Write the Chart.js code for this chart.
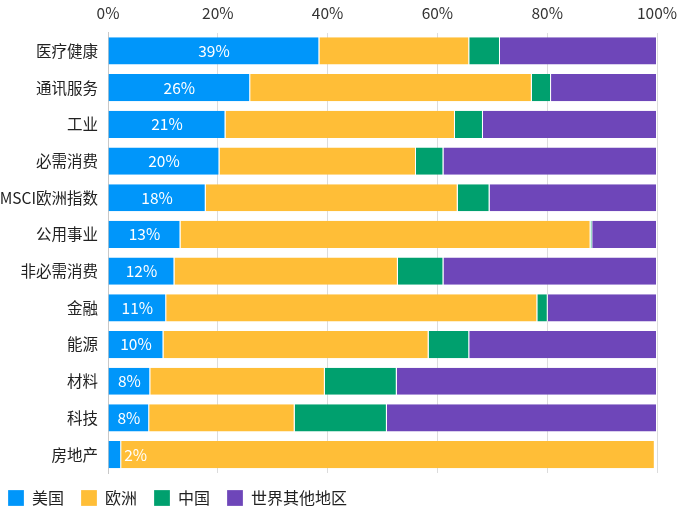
<html>
<head>
    <script src="https://cdn.jsdelivr.net/npm/chart.js"></script>
    <style>
        body { margin: 0; background: #fff; }
        #wrap { width: 679px; height: 506px; }
    </style>
</head>
<body>
    <div id="wrap">
        <canvas id="myChart"></canvas>
    </div>
    <script>
        // 데이터 (행업별 지역 비중, %)
        const sectors = ['医疗健康', '通讯服务', '工业', '必需消费', 'MSCI欧洲指数', '公用事业',
                         '非必需消费', '金融', '能源', '材料', '科技', '房地产'];
        const usValues     = [38.5, 25.9, 21.4, 20.3, 17.8, 13.2, 12.1, 10.6, 10.1, 7.7, 7.5, 2.4];
        const europeValues = [27.3, 51.3, 41.8, 35.8, 45.9, 74.7, 40.7, 67.6, 48.3, 31.8, 26.5, 97.2];
        const chinaValues  = [5.6, 3.5, 5.1, 5.0, 5.8, 0.3, 8.3, 1.9, 7.4, 13.1, 16.8, 0];
        const restValues   = [28.6, 19.3, 31.7, 38.9, 30.5, 11.8, 38.9, 19.9, 34.2, 47.4, 49.2, 0];
        const seriesNames  = ['美国', '欧洲', '中国', '世界其他地区'];
        const xTicks       = [0, 20, 40, 60, 80, 100];

        const colors = ['#0096fa', '#ffbe37', '#00a06e', '#6e46b9'];
        const font = "'Noto Sans CJK SC', 'Noto Sans', sans-serif";

        // 미국 비중 라벨
        const usLabel = {
            id: 'usLabel',
            afterDatasetsDraw(chart) {
                const ctx = chart.ctx;
                const meta = chart.getDatasetMeta(0);
                ctx.save();
                ctx.font = '15.5px ' + font;
                ctx.fillStyle = '#fff';
                ctx.textBaseline = 'middle';
                meta.data.forEach((bar, i) => {
                    const text = Math.round(usValues[i]) + '%';
                    const w = ctx.measureText(text).width;
                    const left = bar.base, right = bar.x;
                    if (right - left > w + 4) {
                        ctx.textAlign = 'center';
                        ctx.fillText(text, (left + right) / 2, bar.y);
                    } else {
                        ctx.textAlign = 'left';
                        ctx.fillText(text, right + 3, bar.y);
                    }
                });
                ctx.restore();
            }
        };

        // 범례를 왼쪽으로 조금 당김
        const legendShift = {
            id: 'legendShift',
            afterLayout(chart) {
                chart.legend.left -= 9;
            }
        };

        new Chart(document.getElementById('myChart'), {
            type: 'bar',
            data: {
                labels: sectors,
                datasets: [usValues, europeValues, chinaValues, restValues].map((d, i) => ({
                    label: seriesNames[i],
                    data: d,
                    backgroundColor: colors[i],
                    borderColor: '#fff',
                    borderWidth: { left: 0, right: 1, top: 0, bottom: 0 },
                    borderSkipped: false,
                    categoryPercentage: 1,
                    barPercentage: 0.74
                }))
            },
            options: {
                indexAxis: 'y',
                responsive: true,
                maintainAspectRatio: false,
                animation: false,
                layout: { padding: { top: -6, right: 4, left: 0, bottom: -10 } },
                scales: {
                    x: {
                        position: 'top',
                        stacked: true,
                        min: 0,
                        max: 100,
                        afterBuildTicks: axis => { axis.ticks = xTicks.map(v => ({ value: v })); },
                        afterFit: axis => { axis.paddingRight = 22; },
                        ticks: {
                            callback: v => v + '%',
                            color: '#333',
                            font: { family: font, size: 15.5 },
                            padding: 10
                        },
                        grid: { color: '#dcdcdc', drawTicks: false },
                        border: { display: false }
                    },
                    y: {
                        stacked: true,
                        afterFit: axis => { axis.width = 108; },
                        ticks: {
                            color: '#222',
                            font: { family: font, size: 15.5 },
                            padding: 10
                        },
                        grid: { display: false, drawTicks: false },
                        border: { color: '#c8c8c8' }
                    }
                },
                plugins: {
                    legend: {
                        position: 'bottom',
                        align: 'start',
                        labels: {
                            boxWidth: 16,
                            boxHeight: 16,
                            padding: 17,
                            color: '#222',
                            font: { family: font, size: 16 }
                        }
                    },
                    tooltip: { enabled: false }
                }
            },
            plugins: [usLabel, legendShift]
        });
    </script>
</body>
</html>
